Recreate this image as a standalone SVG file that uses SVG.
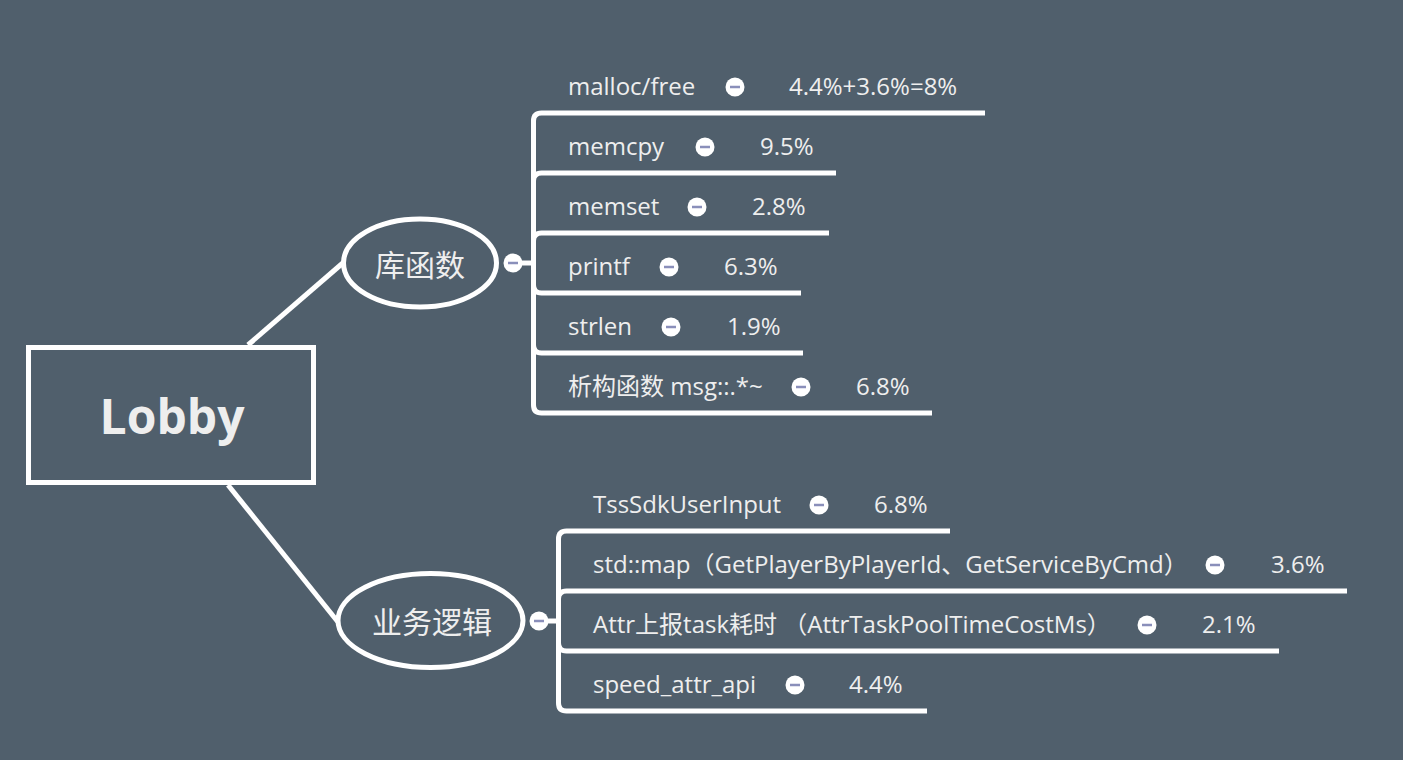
<svg xmlns="http://www.w3.org/2000/svg" width="1403" height="760" viewBox="0 0 1403 760">
<defs>
<style>
.bg{fill:#505F6C}
.ln{fill:none;stroke:#FFFFFF;stroke-width:5;stroke-linecap:butt;stroke-linejoin:round}
.shape{fill:none;stroke:#FFFFFF;stroke-width:5}
.t{font-family:"Open Sans","Noto Sans CJK SC",sans-serif;font-size:24px;fill:#EEEEEE}
.mid{font-family:"Open Sans","Noto Sans CJK SC",sans-serif;font-size:30px;fill:#EEEEEE;text-anchor:middle}
.root{font-family:"Open Sans","Noto Sans CJK SC",sans-serif;font-size:48px;font-weight:bold;fill:#EEEEEE;text-anchor:middle}
.cb{fill:#FFFFFF}
.cm{stroke:#8A8FBA;stroke-width:2.5}
</style>
<g id="minus">
<circle class="cb" cx="0" cy="0" r="9.5"/>
<line class="cm" x1="-5" y1="0" x2="5" y2="0"/>
</g>
</defs>
<rect class="bg" x="0" y="0" width="1403" height="760"/>

<g id="connectors">
<line class="ln" x1="248" y1="345" x2="344" y2="262"/>
<line class="ln" x1="228" y1="485" x2="338" y2="622"/>
<line class="ln" x1="520" y1="263" x2="534" y2="263"/>
<path class="ln" d="M533.5 263 V121 Q533.5 113 541.5 113 H985"/>
<path class="ln" d="M533.5 263 V181 Q533.5 173 541.5 173 H836"/>
<path class="ln" d="M533.5 263 V241 Q533.5 233 541.5 233 H829"/>
<path class="ln" d="M533.5 263 V285 Q533.5 293 541.5 293 H801"/>
<path class="ln" d="M533.5 263 V345 Q533.5 353 541.5 353 H803"/>
<path class="ln" d="M533.5 263 V405 Q533.5 413 541.5 413 H932"/>
<line class="ln" x1="546" y1="621" x2="559" y2="621"/>
<path class="ln" d="M558.5 621 V539 Q558.5 531 566.5 531 H950"/>
<path class="ln" d="M558.5 621 V599 Q558.5 591 566.5 591 H1347"/>
<path class="ln" d="M558.5 621 V643 Q558.5 651 566.5 651 H1279"/>
<path class="ln" d="M558.5 621 V703 Q558.5 711 566.5 711 H927"/>
</g>

<g id="lobby">
<rect class="shape" x="28.5" y="347.5" width="285" height="135"/>
<text class="root" x="172" y="434">Lobby</text>
</g>

<g id="kuhanshu">
<ellipse class="shape" cx="420" cy="263" rx="76.5" ry="44"/>
<text class="mid" x="420" y="276">库函数</text>
<use href="#minus" x="513" y="263"/>
</g>

<g id="yewuluoji">
<ellipse class="shape" cx="430.5" cy="620.5" rx="92.5" ry="47"/>
<text class="mid" x="432" y="633">业务逻辑</text>
<use href="#minus" x="539" y="621"/>
</g>

<g id="n-malloc">
<text class="t" x="568" y="95">malloc/free</text>
<use href="#minus" x="735" y="87"/>
<text class="t" x="789" y="95">4.4%+3.6%=8%</text>
</g>
<g id="n-memcpy">
<text class="t" x="568" y="155">memcpy</text>
<use href="#minus" x="705" y="147"/>
<text class="t" x="760" y="155">9.5%</text>
</g>
<g id="n-memset">
<text class="t" x="568" y="215">memset</text>
<use href="#minus" x="697" y="207"/>
<text class="t" x="752" y="215">2.8%</text>
</g>
<g id="n-printf">
<text class="t" x="568" y="275">printf</text>
<use href="#minus" x="669" y="267"/>
<text class="t" x="724" y="275">6.3%</text>
</g>
<g id="n-strlen">
<text class="t" x="568" y="335">strlen</text>
<use href="#minus" x="671" y="327"/>
<text class="t" x="727" y="335">1.9%</text>
</g>
<g id="n-xigou">
<text class="t" x="568" y="395">析构函数 msg::.*~</text>
<use href="#minus" x="801" y="387"/>
<text class="t" x="856" y="395">6.8%</text>
</g>

<g id="n-tss">
<text class="t" x="593" y="513">TssSdkUserInput</text>
<use href="#minus" x="819" y="505"/>
<text class="t" x="874" y="513">6.8%</text>
</g>
<g id="n-stdmap">
<text class="t" x="593" y="573">std::map（GetPlayerByPlayerId、GetServiceByCmd）</text>
<use href="#minus" x="1215" y="565"/>
<text class="t" x="1271" y="573">3.6%</text>
</g>
<g id="n-attr">
<text class="t" x="593" y="633">Attr上报task耗时 （AttrTaskPoolTimeCostMs）</text>
<use href="#minus" x="1147" y="625"/>
<text class="t" x="1202" y="633">2.1%</text>
</g>
<g id="n-speed">
<text class="t" x="593" y="693">speed_attr_api</text>
<use href="#minus" x="795" y="685"/>
<text class="t" x="849" y="693">4.4%</text>
</g>
</svg>
